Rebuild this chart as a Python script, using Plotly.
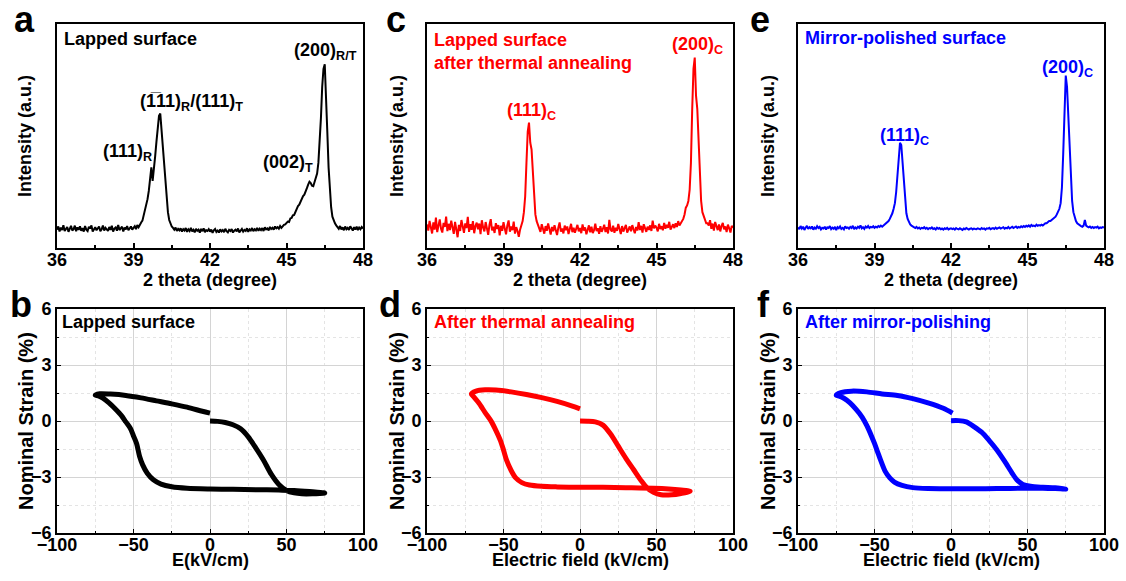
import plotly.graph_objects as go

W, H = 1126, 581
FONT = "Liberation Sans, Arial, sans-serif"
BLACK, RED, BLUE = "#000000", "#FF0000", "#0000FF"

# ---------------- XRD data (2 theta scan, 0.05 deg step) ----------------
TWO_THETA = [round(36 + 0.05 * i, 2) for i in range(241)]

xrd_lapped = (
    [8.2, 9.6, 7.4, 9.1, 8.0, 10.2, 7.6, 8.8, 9.4, 7.2, 8.6, 9.9, 7.8, 8.4, 10.0, 7.5, 9.2, 8.1, 9.7, 7.7]
    + [8.9, 7.3, 9.8, 8.2, 7.6, 9.5, 8.7, 10.1, 7.4, 8.5, 9.3, 7.9, 8.8, 9.6, 7.5, 8.3, 10.0, 7.8, 9.0, 8.4]
    + [7.6, 9.4, 8.1, 9.9, 7.3, 8.7, 9.2, 7.7, 10.3, 8.0, 8.6, 9.5, 7.4, 9.1, 8.3, 9.8, 7.9, 8.9, 9.6, 8.2]
    + [8.8, 9.7, 8.4, 10.2, 9.3, 10.6, 11.4, 12.2, 14.5, 16.0, 19.4, 21.8, 25.5, 30.5, 36.0, 30.0, 34.5, 41.0, 47.5, 54.0]
    + [59.0, 60.0, 53.0, 44.5, 37.0, 28.0, 21.5, 16.0, 12.5, 10.8, 9.6, 9.0, 8.2, 9.1, 7.6, 8.5, 7.9, 8.8, 7.3, 8.4]
    + [7.8, 8.9, 7.2, 8.3, 7.6, 9.0, 7.4, 8.1, 7.0, 8.6, 7.7, 8.2, 6.9, 8.5, 7.5, 8.8, 7.1, 8.0, 7.6, 8.4]
    + [7.3, 8.2, 6.8, 7.9, 8.5, 7.2, 7.8, 6.9, 8.3, 7.4, 8.0, 7.1, 8.6, 7.5, 7.0, 8.1, 7.6, 8.4, 6.9, 7.7]
    + [8.2, 7.4, 8.7, 7.0, 7.9, 8.5, 7.3, 8.1, 7.6, 8.8, 7.2, 8.3, 7.8, 8.9, 7.5, 8.4, 7.9, 9.0, 7.7, 8.6]
    + [8.0, 8.9, 7.6, 9.2, 8.3, 8.7, 7.9, 9.4, 8.5, 9.0, 8.2, 9.6, 8.8, 9.3, 8.6, 9.8, 9.0, 9.7, 10.3, 10.5]
    + [11.0, 11.8, 11.6, 13.2, 13.4, 14.6, 14.8, 16.2, 16.8, 18.7, 19.3, 20.8, 21.8, 23.2, 23.8, 25.8, 26.7, 28.3, 29.6, 29.0]
    + [27.8, 27.6, 29.2, 31.0, 33.2, 38.0, 46.0, 58.0, 72.0, 80.0, 82.0, 70.0, 52.0, 36.0, 25.0, 18.2, 14.0, 12.2, 11.0, 10.1]
    + [9.5, 8.6, 9.8, 8.3, 9.2, 7.9, 9.6, 8.4, 9.0, 8.1, 9.7, 8.5, 7.8, 9.3, 8.2, 9.5, 8.0, 9.1, 8.4, 9.4]
    + [8.7]
)

xrd_annealed = (
    [10.5, 7.8, 12.1, 9.0, 6.5, 11.4, 8.2, 13.6, 7.1, 10.0, 12.8, 8.6, 6.9, 11.2, 9.4, 14.0, 7.5, 10.8, 8.0, 12.2]
    + [9.1, 6.3, 11.7, 8.4, 4.8, 10.3, 7.6, 12.5, 9.7, 6.8, 11.0, 8.9, 13.9, 7.2, 10.6, 8.1, 12.0, 6.6, 9.8, 11.3]
    + [8.3, 10.9, 6.2, 12.4, 9.2, 7.4, 11.6, 8.8, 5.9, 10.4, 12.9, 7.9, 9.5, 6.7, 11.1, 8.5, 10.2, 5.6, 9.9, 7.7]
    + [11.5, 8.7, 6.1, 10.1, 12.3, 7.3, 9.6, 8.0, 11.8, 6.4, 9.3, 7.6, 5.0, 8.2, 10.0, 12.0, 16.0, 23.0, 38.0, 52.0]
    + [56.0, 47.0, 44.0, 33.0, 22.0, 15.0, 12.0, 10.0, 9.0, 7.2, 10.6, 8.1, 6.4, 9.8, 7.7, 11.0, 8.3, 6.0, 9.4, 7.5]
    + [10.2, 8.0, 5.8, 9.1, 11.4, 7.3, 8.7, 6.5, 10.0, 7.9, 9.6, 6.2, 8.4, 10.8, 7.1, 9.0, 6.8, 8.5, 10.3, 7.4]
    + [8.9, 6.6, 10.5, 7.8, 9.2, 6.1, 8.3, 10.1, 7.0, 9.5, 6.7, 8.0, 10.9, 7.5, 8.8, 6.3, 9.7, 7.2, 8.6, 10.4]
    + [7.1, 9.3, 6.5, 12.6, 8.2, 7.4, 10.0, 6.8, 9.1, 7.7, 10.7, 8.4, 6.2, 9.8, 7.3, 8.9, 10.3, 6.9, 8.1, 9.6]
    + [7.5, 10.2, 8.3, 6.6, 9.4, 7.8, 11.5, 8.0, 9.9, 6.9, 10.6, 8.7, 7.2, 9.5, 8.1, 10.1, 7.6, 12.2, 8.8, 10.0]
    + [9.1, 7.4, 10.8, 8.5, 9.7, 7.9, 11.2, 8.6, 10.3, 9.0, 11.7, 8.2, 9.8, 10.6, 8.9, 11.0, 9.4, 12.0, 10.0, 11.0]
    + [12.0, 13.0, 15.0, 18.0, 19.0, 21.0, 26.0, 38.0, 62.0, 80.0, 85.0, 68.0, 62.0, 47.0, 32.0, 21.0, 16.0, 14.0, 12.0, 11.0]
    + [11.0, 10.0, 12.4, 8.6, 10.9, 7.8, 11.6, 9.2, 8.0, 10.5, 7.4, 9.8, 11.2, 8.3, 9.6, 7.1, 10.4, 8.8, 6.9, 9.9]
    + [9.0]
)

xrd_polished = (
    [9.2, 8.4, 9.8, 8.7, 9.5, 8.1, 9.0, 9.9, 8.5, 9.3, 8.8, 9.6, 8.2, 9.1, 8.6, 9.7, 8.9, 9.4, 8.3, 9.0]
    + [8.7, 9.5, 8.2, 9.2, 8.9, 9.8, 8.4, 9.1, 8.6, 9.4, 8.0, 9.3, 8.8, 9.6, 8.5, 9.0, 8.3, 9.7, 8.9, 9.2]
    + [8.6, 9.4, 8.9, 9.9, 8.4, 9.2, 8.7, 9.5, 9.0, 10.1, 8.8, 9.3, 8.5, 9.6, 9.1, 9.8, 8.9, 9.4, 9.2, 9.7]
    + [9.0, 9.5, 9.2, 9.8, 9.4, 10.0, 9.5, 10.0, 10.5, 11.0, 11.5, 12.0, 13.0, 14.0, 15.5, 17.5, 20.0, 25.0, 33.0, 42.0]
    + [47.0, 46.0, 38.0, 28.0, 20.0, 15.5, 13.0, 11.5, 10.5, 10.0, 9.5, 9.2, 8.9, 9.4, 8.7, 9.1, 8.5, 9.0, 8.8, 9.3]
    + [8.6, 9.0, 8.4, 8.9, 8.7, 9.2, 8.5, 8.8, 8.3, 9.1, 8.6, 8.9, 8.4, 8.7, 8.2, 8.8, 8.5, 9.0, 8.3, 8.6]
    + [8.8, 8.4, 8.7, 8.2, 8.9, 8.5, 8.3, 8.8, 8.6, 8.1, 8.7, 8.4, 8.9, 8.5, 8.2, 8.6, 8.8, 8.3, 8.7, 8.5]
    + [8.4, 8.8, 8.6, 8.3, 8.9, 8.5, 8.7, 8.2, 8.8, 8.6, 9.0, 8.4, 8.7, 8.9, 8.5, 9.1, 8.6, 8.8, 9.2, 8.7]
    + [8.9, 9.3, 8.6, 9.0, 8.8, 9.4, 8.7, 9.1, 9.5, 8.9, 9.2, 9.6, 9.0, 9.4, 9.1, 9.7, 9.3, 9.8, 9.4, 9.9]
    + [9.6, 10.1, 9.5, 10.3, 9.8, 10.0, 9.7, 10.4, 9.9, 10.2, 10.0, 10.4, 10.0, 10.5, 11.0, 11.0, 11.5, 12.0, 12.0, 12.5]
    + [13.0, 13.5, 14.0, 15.0, 16.0, 17.5, 20.0, 27.0, 42.0, 64.0, 77.0, 72.0, 58.0, 44.0, 30.0, 21.0, 16.0, 13.5, 12.0, 11.0]
    + [10.5, 10.0, 9.8, 9.5, 10.0, 12.5, 10.0, 9.5, 9.2, 9.6, 9.0, 9.4, 8.9, 9.3, 9.1, 9.5, 8.8, 9.2, 9.0, 9.3]
    + [9.1]
)

# ---------------- Strain vs electric field loops ----------------
E_lapped = [0, 5, 10, 15, 20, 25, 30, 35, 40, 45, 50, 55, 60, 67, 75,
            65, 55, 45, 30, 15, 0, -15, -25, -32, -37, -41, -44, -46, -48, -50,
            -52, -55, -58, -62, -66, -70, -73, -75,
            -72, -65, -55, -45, -35, -25, -15, -5, 0]
S_lapped = [0, -0.02, -0.08, -0.2, -0.42, -0.85, -1.45, -2.1, -2.85, -3.4, -3.72, -3.85, -3.9, -3.9, -3.86,
            -3.78, -3.72, -3.7, -3.68, -3.66, -3.64, -3.6, -3.52, -3.38, -3.15, -2.8, -2.35, -1.9, -1.2, -0.8,
            -0.4, -0.05, 0.3, 0.65, 0.97, 1.22, 1.35, 1.38,
            1.46, 1.44, 1.37, 1.24, 1.08, 0.92, 0.74, 0.52, 0.42]

E_annealed = [0, 5, 10, 15, 20, 25, 30, 35, 40, 44, 48, 53, 60, 66, 72,
              66, 58, 48, 30, 15, 0, -15, -25, -33, -38, -42, -45, -48, -50,
              -52, -55, -58, -62, -66, -70, -71,
              -68, -62, -55, -45, -35, -25, -15, -5, 0]
S_annealed = [0, -0.01, -0.05, -0.22, -0.7, -1.35, -2.0, -2.6, -3.2, -3.6, -3.82, -3.95, -3.95, -3.88, -3.77,
              -3.7, -3.64, -3.6, -3.57, -3.55, -3.55, -3.53, -3.5, -3.43, -3.3, -3.05, -2.65, -2.1, -1.55,
              -1.05, -0.5, -0.02, 0.45, 0.95, 1.35, 1.45,
              1.6, 1.67, 1.66, 1.56, 1.42, 1.25, 1.05, 0.8, 0.65]

E_polished = [0, 5, 10, 15, 20, 25, 30, 35, 40, 43, 47, 52, 60, 68, 75,
              68, 60, 48, 30, 15, 0, -15, -25, -32, -37, -40, -43, -46, -48, -50,
              -52, -55, -58, -62, -66, -70, -73, -75,
              -72, -65, -55, -45, -35, -25, -15, -5, 1]
S_polished = [0.02, 0.02, -0.05, -0.3, -0.6, -1.05, -1.55, -2.15, -2.8, -3.15, -3.4, -3.5, -3.55, -3.58, -3.65,
              -3.62, -3.6, -3.6, -3.62, -3.63, -3.63, -3.62, -3.57, -3.45, -3.27, -3.05, -2.7, -2.1, -1.65, -1.2,
              -0.8, -0.25, 0.2, 0.62, 0.97, 1.22, 1.33, 1.38,
              1.52, 1.6, 1.56, 1.45, 1.37, 1.2, 0.97, 0.68, 0.42]

XRD_TICKS = [36, 39, 42, 45, 48]
FIELD_TICKS = [-100, -50, 0, 50, 100]
STRAIN_TICKS = [-6, -3, 0, 3, 6]


def px(x):
    return x / W


def py(y):
    return 1 - y / H


fig = go.Figure()

cols = [(57, 363), (427, 733), (798, 1104)]
top_rows = (24, 248)
bot_rows = (309, 533)

xrd_sets = [(xrd_lapped, BLACK), (xrd_annealed, RED), (xrd_polished, BLUE)]
loop_sets = [(E_lapped, S_lapped, BLACK), (E_annealed, S_annealed, RED), (E_polished, S_polished, BLUE)]

for i, (vals, col) in enumerate(xrd_sets):
    n = i + 1
    fig.add_trace(go.Scatter(x=TWO_THETA, y=vals, mode="lines",
                             line=dict(color=col, width=2),
                             xaxis=f"x{n if n > 1 else ''}", yaxis=f"y{n if n > 1 else ''}",
                             hoverinfo="skip"))
for i, (ex, sy, col) in enumerate(loop_sets):
    n = i + 4
    fig.add_trace(go.Scatter(x=ex, y=sy, mode="lines",
                             line=dict(color=col, width=5, shape="spline", smoothing=0.8),
                             xaxis=f"x{n}", yaxis=f"y{n}", hoverinfo="skip"))

tickfont = dict(family=FONT, size=18, color="black", weight="bold")
axline = dict(showline=True, linecolor="black", linewidth=1.6, mirror=True, zeroline=False,
              automargin=False)

layout = dict(width=W, height=H, margin=dict(l=0, r=0, t=0, b=0, autoexpand=False),
              template="none", font=dict(family=FONT, size=17, color="black"),
              paper_bgcolor="white", plot_bgcolor="white", showlegend=False)

for i, (l, r) in enumerate(cols):
    n = i + 1
    xa = "xaxis" if n == 1 else f"xaxis{n}"
    ya = "yaxis" if n == 1 else f"yaxis{n}"
    layout[xa] = dict(domain=[px(l), px(r)], range=[36, 48], anchor=f"y{n if n > 1 else ''}",
                      tickvals=XRD_TICKS, ticks="inside", ticklen=5, tickwidth=1.5, tickcolor="black",
                      ticklabelstandoff=-5,
                      minor=dict(dtick=1.5, ticks="inside", ticklen=3, tickcolor="black", showgrid=False),
                      showgrid=False, tickfont=tickfont, **axline)
    layout[ya] = dict(domain=[py(top_rows[1]), py(top_rows[0])], range=[0, 100],
                      anchor=f"x{n if n > 1 else ''}", showticklabels=False, ticks="",
                      showgrid=False, **axline)
    m = i + 4
    layout[f"xaxis{m}"] = dict(domain=[px(l), px(r)], range=[-100, 100], anchor=f"y{m}",
                               tickvals=FIELD_TICKS, ticks="inside", ticklen=4, tickcolor="black",
                               ticklabelstandoff=-5,
                               showgrid=True, gridcolor="#D4D4D4", gridwidth=1,
                               minor=dict(dtick=25, showgrid=True, gridcolor="#E4E4E4", griddash="dot",
                                          ticks="inside", ticklen=2, tickcolor="black"),
                               tickfont=tickfont, **axline)
    layout[f"yaxis{m}"] = dict(domain=[py(bot_rows[1]), py(bot_rows[0])], range=[-6, 6], anchor=f"x{m}",
                               tickvals=STRAIN_TICKS, ticks="inside", ticklen=4, tickcolor="black",
                               showgrid=True, gridcolor="#D4D4D4", gridwidth=1,
                               minor=dict(dtick=1.5, showgrid=True, gridcolor="#E4E4E4", griddash="dot",
                                          ticks="inside", ticklen=2, tickcolor="black"),
                               tickfont=tickfont, **axline)

fig.update_layout(**layout)

ann = []


def text(t, x, y, size=18, color="black", xanchor="center", yanchor="middle", angle=0, align="center"):
    ann.append(dict(text=f"<b>{t}</b>", x=px(x), y=py(y), xref="paper", yref="paper",
                    showarrow=False, xanchor=xanchor, yanchor=yanchor, textangle=angle, align=align,
                    font=dict(family=FONT, size=size, color=color)))


for letter, x, y in [("a", 24, 19), ("c", 396, 19), ("e", 760, 19),
                     ("b", 21, 304), ("d", 390, 304), ("f", 763, 304)]:
    text(letter, x, y, size=36)

for (l, r), ytx in zip(cols, [25, 397, 768]):
    cx = (l + r) / 2
    text("2 theta (degree)", cx, 280, size=18)
    text("Intensity (a.u.)", ytx, 136, size=18, angle=-90)
for (l, r), ytx, xt in zip(cols, [26, 397, 768], ["E(kV/cm)", "Electric field (kV/cm)", "Electric field (kV/cm)"]):
    cx = (l + r) / 2
    text(xt, cx, 560, size=18)
    text("Nominal Strain (%)", ytx, 421, size=20, angle=-90)

text("Lapped surface", 62, 39, xanchor="left")
text("(111)<sub>R</sub>", 127, 152)
text("(1\u030511)<sub>R</sub>/(111)<sub>T</sub>", 191, 102)
text("(002)<sub>T</sub>", 288, 163)
text("(200)<sub>R/T</sub>", 325, 52)
text("Lapped surface<br>after thermal annealing", 432, 51, color=RED, xanchor="left", align="left")
text("(111)<sub>C</sub>", 531, 112, color=RED)
text("(200)<sub>C</sub>", 697, 45, color=RED)
text("Mirror-polished surface", 803, 38, color=BLUE, xanchor="left")
text("(111)<sub>C</sub>", 904, 136, color=BLUE)
text("(200)<sub>C</sub>", 1067, 68, color=BLUE)
text("Lapped surface", 60, 322, xanchor="left")
text("After thermal annealing", 432, 322, color=RED, xanchor="left")
text("After mirror-polishing", 803, 322, color=BLUE, xanchor="left")

fig.update_layout(annotations=ann)
fig.write_html("out.html")
